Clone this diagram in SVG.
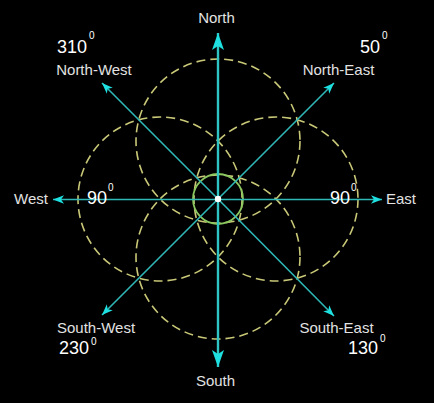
<svg xmlns="http://www.w3.org/2000/svg" width="434" height="403" viewBox="0 0 434 403">
  <style>
    .circ { fill: none; stroke: #c9c878; stroke-width: 1.6; stroke-dasharray: 9 5; }
    .inner { fill: none; stroke: #8cc860; stroke-width: 1.8; }
    .ax { stroke: #2fb8b8; stroke-width: 1.6; fill: none; }
    .axb { stroke: #2fc4c4; stroke-width: 2.4; fill: none; }
    .lbl { font-family: "Liberation Sans", Arial, sans-serif; font-size: 15px; fill: #e2e2e2; }
    .num { font-family: "Liberation Sans", Arial, sans-serif; font-size: 18px; fill: #ffffff; }
    .sup { font-size: 10px; }
  </style>
  <defs>
    <marker id="big" markerUnits="userSpaceOnUse" viewBox="-18 -7 19 14" refX="0" refY="0" markerWidth="19" markerHeight="14" orient="auto">
      <path d="M0,0 L-17,-6 L-13,0 L-17,6 Z" fill="#1ee0e0"/>
    </marker>
    <marker id="small" markerUnits="userSpaceOnUse" viewBox="-12 -5 13 10" refX="0" refY="0" markerWidth="13" markerHeight="10" orient="auto">
      <path d="M0,0 L-11,-4.2 L-8,0 L-11,4.2 Z" fill="#1ee0e0"/>
    </marker>
  </defs>
  <rect x="0" y="0" width="434" height="403" fill="#000000"/>

  <g id="circles">
    <circle class="circ" cx="218" cy="141" r="82"/>
    <circle class="circ" cx="218" cy="257" r="82"/>
    <circle class="circ" cx="160" cy="199" r="82"/>
    <circle class="circ" cx="276" cy="199" r="82"/>
    <circle class="inner" cx="218" cy="199" r="25"/>
  </g>

  <g id="connectors">
    <line class="axb" x1="218" y1="199" x2="218" y2="33" marker-end="url(#big)"/>
    <line class="axb" x1="218" y1="199" x2="218" y2="367" marker-end="url(#big)"/>
    <line class="ax" x1="218" y1="199.5" x2="53" y2="199.5" marker-end="url(#small)"/>
    <line class="ax" x1="218" y1="199.5" x2="382" y2="199.5" marker-end="url(#small)"/>
    <line class="ax" x1="218" y1="199" x2="102" y2="83" marker-end="url(#small)"/>
    <line class="ax" x1="218" y1="199" x2="334" y2="83" marker-end="url(#small)"/>
    <line class="ax" x1="218" y1="199" x2="102" y2="315" marker-end="url(#small)"/>
    <line class="ax" x1="218" y1="199" x2="334" y2="316" marker-end="url(#small)"/>
  </g>

  <g id="center">
    <circle cx="218" cy="199" r="3.2" fill="#ffffff"/>
  </g>

  <g id="north"><text class="lbl" x="216.5" y="23" text-anchor="middle">North</text></g>
  <g id="south"><text class="lbl" x="215.5" y="386" text-anchor="middle">South</text></g>
  <g id="west">
    <text class="lbl" x="48" y="204" text-anchor="end">West</text>
    <text class="num" x="87" y="204">90<tspan class="sup" dx="1" dy="-13">0</tspan></text>
  </g>
  <g id="east">
    <text class="lbl" x="386" y="204">East</text>
    <text class="num" x="330" y="204">90<tspan class="sup" dx="1" dy="-13">0</tspan></text>
  </g>
  <g id="north-west">
    <text class="lbl" x="94" y="75" text-anchor="middle">North-West</text>
    <text class="num" x="57" y="53">310<tspan class="sup" dx="2" dy="-14">0</tspan></text>
  </g>
  <g id="north-east">
    <text class="lbl" x="338.5" y="75" text-anchor="middle">North-East</text>
    <text class="num" x="360" y="53">50<tspan class="sup" dx="2" dy="-14">0</tspan></text>
  </g>
  <g id="south-west">
    <text class="lbl" x="96" y="333" text-anchor="middle">South-West</text>
    <text class="num" x="59" y="354">230<tspan class="sup" dx="2" dy="-9">0</tspan></text>
  </g>
  <g id="south-east">
    <text class="lbl" x="336.5" y="333" text-anchor="middle">South-East</text>
    <text class="num" x="348" y="354">130<tspan class="sup" dx="2" dy="-12">0</tspan></text>
  </g>
</svg>
